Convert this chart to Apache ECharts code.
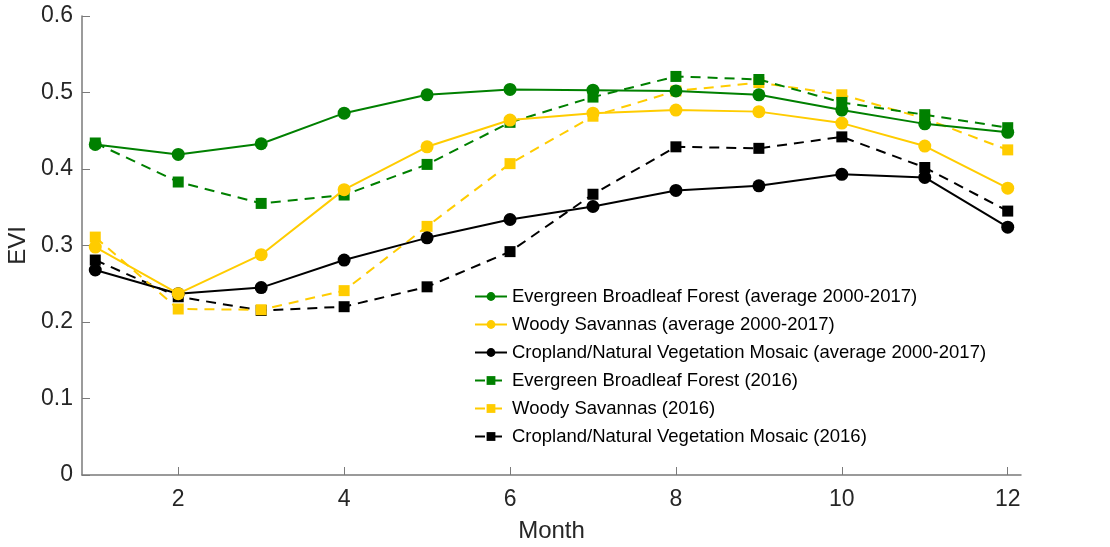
<!DOCTYPE html>
<html>
<head>
<meta charset="utf-8">
<script src="https://cdn.jsdelivr.net/npm/echarts@6/dist/echarts.min.js"></script>
<style>html,body{margin:0;padding:0;background:#fff}#c{width:1110px;height:547px}</style>
</head>
<body>
<div id="c"></div>
<script>
const months = [1,2,3,4,5,6,7,8,9,10,11,12];
const xTicks = [2,4,6,8,10,12];
const yTicks = [0,0.1,0.2,0.3,0.4,0.5,0.6];
const names = [
  'Evergreen Broadleaf Forest (average 2000-2017)',
  'Woody Savannas (average 2000-2017)',
  'Cropland/Natural Vegetation Mosaic (average 2000-2017)',
  'Evergreen Broadleaf Forest (2016)',
  'Woody Savannas (2016)',
  'Cropland/Natural Vegetation Mosaic (2016)'
];
const ebfAvg = [0.432,0.419,0.433,0.473,0.497,0.504,0.503,0.502,0.497,0.477,0.459,0.448];
const wsAvg  = [0.298,0.237,0.288,0.373,0.429,0.464,0.473,0.477,0.475,0.460,0.430,0.375];
const cnAvg  = [0.268,0.237,0.245,0.281,0.310,0.334,0.351,0.372,0.378,0.393,0.389,0.324];
const ebf16  = [0.434,0.383,0.355,0.366,0.406,0.461,0.494,0.521,0.517,0.487,0.471,0.454];
const ws16   = [0.311,0.217,0.216,0.241,0.325,0.407,0.469,0.502,0.513,0.497,0.466,0.425];
const cn16   = [0.281,0.233,0.215,0.220,0.246,0.292,0.367,0.429,0.427,0.442,0.402,0.345];

const GREEN = '#008000', YELLOW = '#FFCC00', BLACK = '#000000';
const seriesData = [ebfAvg, wsAvg, cnAvg, ebf16, ws16, cn16];
const colors = [GREEN, YELLOW, BLACK, GREEN, YELLOW, BLACK];

const series = seriesData.map((vals, i) => {
  const dashed = i >= 3;
  return {
    name: names[i],
    type: 'line',
    data: months.map((m, k) => [m, vals[k]]),
    symbol: dashed ? 'rect' : 'circle',
    symbolSize: dashed ? 11 : 13,
    showSymbol: true,
    z: 10 - i,
    itemStyle: { color: colors[i] },
    lineStyle: { color: colors[i], width: 2, type: dashed ? [10, 7] : 'solid' },
    emphasis: { disabled: true },
    animation: false
  };
});

const chart = echarts.init(document.getElementById('c'));
const FONT = 'Liberation Sans';
chart.setOption({
  animation: false,
  textStyle: { fontFamily: FONT },
  grid: { left: 82, top: 16, width: 939, height: 459, containLabel: false, outerBoundsMode: 'none' },
  legend: {
    orient: 'vertical',
    left: 469,
    top: 282,
    itemWidth: 32,
    itemHeight: 11,
    itemGap: 9,
    textStyle: { fontFamily: FONT, fontSize: 18.5, color: '#000' },
    data: names
  },
  xAxis: {
    type: 'value',
    min: 0.84,
    max: 12.16,
    name: 'Month',
    nameLocation: 'middle',
    nameGap: 44,
    nameTextStyle: { fontFamily: FONT, fontSize: 24, color: '#262626' },
    axisLine: { show: true, lineStyle: { color: '#7a7a7a', width: 1.5 } },
    axisTick: { show: true, inside: true, length: 8, customValues: xTicks, lineStyle: { color: '#7a7a7a', width: 1 } },
    axisLabel: { customValues: xTicks, margin: 13, fontFamily: FONT, fontSize: 23, color: '#262626' },
    splitLine: { show: false }
  },
  yAxis: {
    type: 'value',
    min: 0,
    max: 0.6,
    interval: 0.1,
    name: 'EVI',
    nameLocation: 'middle',
    nameGap: 47,
    nameTextStyle: { fontFamily: FONT, fontSize: 24, color: '#262626' },
    axisLine: { show: true, lineStyle: { color: '#7a7a7a', width: 1.5 } },
    axisTick: { show: true, inside: true, length: 8, lineStyle: { color: '#7a7a7a', width: 1 } },
    axisLabel: { margin: 9, fontFamily: FONT, fontSize: 23, color: '#262626',
      formatter: v => (Math.round(v * 10) / 10).toString() },
    splitLine: { show: false }
  },
  series: series
});
</script>
</body>
</html>
